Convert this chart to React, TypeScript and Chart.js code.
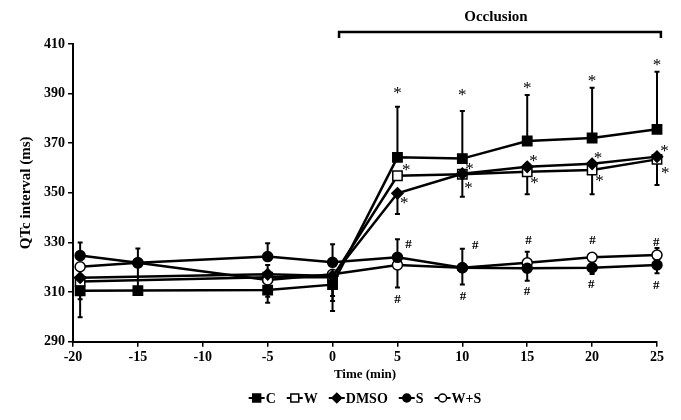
import React, { useEffect, useRef } from 'react';
import { Chart, registerables } from 'chart.js';

Chart.register(...registerables);

// ---- data ----
const times = [-19.45, -15, -5, 0, 5, 10, 15, 20, 25];
const xTickMin = -20;
const xTickMax = 25;
const xTickStep = 5;
const yTickMin = 290;
const yTickMax = 410;
const yTickStep = 20;

const seriesNames = ['C', 'W', 'DMSO', 'S', 'W+S'];

const cValues: (number | null)[] = [310.5, 310.6, 310.8, 313.0, 364.3, 363.8, 370.9, 372.1, 375.6];
const cErrUp = [0, 11, 0, 0, 20.4, 19.2, 18.5, 20.3, 23.2];
const cErrDown = [10.6, 0, 5.1, 10.6, 0, 0, 0, 0, 0];

const wValues: (number | null)[] = [314.3, null, 316.0, 316.0, 356.9, 357.5, 358.5, 359.2, 363.5];
const wErrUp = [0, 0, 0, 0, 0, 0, 0, 0, 0];
const wErrDown = [7.2, 0, 7.9, 9.6, 0, 9.1, 9.1, 9.8, 10.3];

const dmsoValues: (number | null)[] = [315.8, null, 317.2, 316.5, 349.8, 357.7, 360.5, 361.7, 364.6];
const dmsoErrUp = [0, 0, 3.7, 0, 0, 0, 0, 0, 0];
const dmsoErrDown = [0, 0, 0, 8.1, 8.3, 0, 0, 0, 0];

const sValues: (number | null)[] = [324.7, 321.8, 324.3, 322.0, 324.0, 319.8, 319.6, 319.8, 320.9];
const sErrUp = [5.3, 0, 5.4, 7.3, 7.3, 7.7, 0, 0, 0];
const sErrDown = [0, 0, 0, 0, 0, 0, 5.0, 2.5, 3.3];

const wsValues: (number | null)[] = [320.2, 321.8, 314.9, 317.2, 320.9, 319.8, 321.8, 324.0, 324.9];
const wsErrUp = [0, 5.8, 0, 0, 0, 0, 4.5, 0, 2.9];
const wsErrDown = [0, 0, 0, 0, 9.1, 6.7, 0, 0, 0];

// significance marks (data coordinates)
const starCX = [5, 10, 15, 20, 25];
const starCY = [391.4, 390.5, 393.4, 396.1, 402.8];
const starUpperX = [5.68, 10.56, 15.49, 20.45, 25.58];
const starUpperY = [360.3, 360.8, 363.9, 365.3, 368.0];
const starLowerX = [5.53, 10.48, 15.56, 20.57, 25.63];
const starLowerY = [347.1, 353.2, 354.9, 355.9, 358.9];
const hashUpperX = [5.86, 11.0, 15.1, 20.03, 24.94];
const hashUpperY = [329.4, 329.0, 331.3, 331.3, 330.3];
const hashLowerX = [5.0, 10.05, 14.98, 19.93, 24.94];
const hashLowerY = [307.2, 308.4, 310.8, 313.5, 312.9];

const occlusionStart = 0.5;
const occlusionEnd = 25.3;
const occlusionLabel = 'Occlusion';
const xTitle = 'Time (min)';
const yTitle = 'QTc interval (ms)';

const FONT = "'Liberation Serif', 'Times New Roman', serif";

type Series = {
  name: string;
  values: (number | null)[];
  up: number[];
  down: number[];
  style: string;
  fill: string;
  radius: number;
  order: number;
};

const series: Series[] = [
  { name: seriesNames[0], values: cValues, up: cErrUp, down: cErrDown, style: 'rect', fill: '#000', radius: 6.6, order: 0 },
  { name: seriesNames[1], values: wValues, up: wErrUp, down: wErrDown, style: 'rect', fill: '#fff', radius: 6.6, order: 4 },
  { name: seriesNames[2], values: dmsoValues, up: dmsoErrUp, down: dmsoErrDown, style: 'rectRot', fill: '#000', radius: 5.6, order: 1 },
  { name: seriesNames[3], values: sValues, up: sErrUp, down: sErrDown, style: 'circle', fill: '#000', radius: 5, order: 2 },
  { name: seriesNames[4], values: wsValues, up: wsErrUp, down: wsErrDown, style: 'circle', fill: '#fff', radius: 5, order: 3 },
];

function drawMarker(ctx: CanvasRenderingContext2D, style: string, fill: string, x: number, y: number, r: number) {
  ctx.save();
  ctx.fillStyle = fill;
  ctx.strokeStyle = '#000';
  ctx.lineWidth = 1.5;
  ctx.beginPath();
  if (style === 'rect') {
    const h = r * Math.SQRT1_2;
    ctx.rect(x - h, y - h, 2 * h, 2 * h);
  } else if (style === 'rectRot') {
    ctx.moveTo(x, y - r);
    ctx.lineTo(x + r, y);
    ctx.lineTo(x, y + r);
    ctx.lineTo(x - r, y);
    ctx.closePath();
  } else {
    ctx.arc(x, y, r, 0, Math.PI * 2);
  }
  ctx.fill();
  ctx.stroke();
  ctx.restore();
}

const overlayPlugin = {
  id: 'overlay',
  beforeDatasetsDraw(chart: any) {
    const { ctx } = chart;
    const xs = chart.scales.x;
    const ys = chart.scales.y;
    ctx.save();
    ctx.strokeStyle = '#000';
    ctx.lineWidth = 2;
    const cap = 2.5;
    series.forEach((s) => {
      s.values.forEach((v, j) => {
        if (v === null) return;
        const px = xs.getPixelForValue(times[j]);
        const bar = (end: number) => {
          const p0 = ys.getPixelForValue(v);
          const p1 = ys.getPixelForValue(end);
          ctx.beginPath();
          ctx.moveTo(px, p0);
          ctx.lineTo(px, p1);
          ctx.moveTo(px - cap, p1);
          ctx.lineTo(px + cap, p1);
          ctx.stroke();
        };
        if (s.up[j] > 0) bar(v + s.up[j]);
        if (s.down[j] > 0) bar(v - s.down[j]);
      });
    });
    ctx.restore();
  },
  afterDraw(chart: any) {
    const { ctx, chartArea } = chart;
    const xs = chart.scales.x;
    const ys = chart.scales.y;
    ctx.save();
    ctx.fillStyle = '#000';
    ctx.textAlign = 'center';
    ctx.textBaseline = 'alphabetic';

    const marks = (xsArr: number[], ysArr: number[], glyph: string, size: number, weight: string, k: number) => {
      ctx.font = `${weight} ${size}px ${FONT}`;
      xsArr.forEach((xv, i) => {
        const px = xs.getPixelForValue(xv);
        const py = ys.getPixelForValue(ysArr[i]);
        ctx.fillText(glyph, px, py + k * size);
      });
    };
    marks(starCX, starCY, '*', 17, 'normal', 0.45);
    marks(starUpperX, starUpperY, '*', 17, 'normal', 0.45);
    marks(starLowerX, starLowerY, '*', 17, 'normal', 0.45);
    marks(hashUpperX, hashUpperY, '#', 13, 'bold', 0.34);
    marks(hashLowerX, hashLowerY, '#', 13, 'bold', 0.34);

    // occlusion bracket
    const bx0 = xs.getPixelForValue(occlusionStart);
    const bx1 = xs.getPixelForValue(occlusionEnd);
    const by = 32;
    ctx.strokeStyle = '#000';
    ctx.lineWidth = 2.5;
    ctx.beginPath();
    ctx.moveTo(bx0, by + 6);
    ctx.lineTo(bx0, by);
    ctx.lineTo(bx1, by);
    ctx.lineTo(bx1, by + 6);
    ctx.stroke();
    ctx.font = `bold 15px ${FONT}`;
    ctx.textBaseline = 'middle';
    ctx.fillText(occlusionLabel, (bx0 + bx1) / 2 - 4, 17);

    // axis titles
    const cx = (chartArea.left + chartArea.right) / 2;
    const cy = (chartArea.top + chartArea.bottom) / 2;
    ctx.font = `bold 13px ${FONT}`;
    ctx.fillText(xTitle, cx, 375);
    ctx.save();
    ctx.translate(26, cy);
    ctx.rotate(-Math.PI / 2);
    ctx.font = `bold 15px ${FONT}`;
    ctx.fillText(yTitle, 0, 0);
    ctx.restore();

    // legend
    ctx.font = `bold 14px ${FONT}`;
    const lineLen = 16;
    const textGap = 1;
    const itemGap = 11;
    const widths = series.map((s) => lineLen + textGap + ctx.measureText(s.name).width);
    const total = widths.reduce((a, b) => a + b, 0) + itemGap * (series.length - 1);
    let lx = cx - total / 2;
    const ly = 398;
    ctx.textAlign = 'left';
    series.forEach((s, i) => {
      ctx.strokeStyle = '#000';
      ctx.lineWidth = 2;
      ctx.beginPath();
      ctx.moveTo(lx, ly);
      ctx.lineTo(lx + lineLen, ly);
      ctx.stroke();
      drawMarker(ctx, s.style, s.fill, lx + lineLen / 2, ly, s.style === 'circle' ? 4 : s.style === 'rect' ? 5.6 : 4.8);
      ctx.fillStyle = '#000';
      ctx.fillText(s.name, lx + lineLen + textGap, ly + 1);
      lx += widths[i] + itemGap;
    });
    ctx.restore();
  },
};

export default function App() {
  const ref = useRef<HTMLCanvasElement | null>(null);

  useEffect(() => {
    document.body.style.margin = '0';
    if (!ref.current) return;
    const chart = new Chart(ref.current, {
      type: 'line',
      data: {
        datasets: series.map((s) => ({
          label: s.name,
          data: s.values.map((v, j) => ({ x: times[j], y: v })),
          order: s.order,
          borderColor: '#000',
          borderWidth: 2.5,
          pointStyle: s.style as any,
          pointRadius: s.radius,
          pointBackgroundColor: s.fill,
          pointBorderColor: '#000',
          pointBorderWidth: 1.5,
          tension: 0,
          fill: false,
          spanGaps: true,
          clip: false as any,
        })),
      },
      options: {
        animation: false,
        responsive: true,
        maintainAspectRatio: false,
        layout: { padding: { top: 44, right: 24, bottom: 0, left: 0 } },
        plugins: {
          legend: { display: false },
          tooltip: { enabled: false },
          title: { display: false },
        },
        scales: {
          x: {
            type: 'linear',
            min: xTickMin,
            max: xTickMax,
            afterFit: (scale: any) => {
              scale.height = 78.3;
            },
            ticks: {
              stepSize: xTickStep,
              color: '#000',
              font: { family: FONT, size: 14, weight: 'bold' },
              padding: 2,
              maxRotation: 0,
            },
            grid: {
              display: true,
              drawOnChartArea: false,
              drawTicks: true,
              tickLength: 5,
              color: '#000',
              lineWidth: 1.5,
            },
            border: { display: true, color: '#000', width: 2 },
          },
          y: {
            type: 'linear',
            min: yTickMin,
            max: yTickMax,
            afterFit: (scale: any) => {
              scale.width = 73;
            },
            ticks: {
              stepSize: yTickStep,
              color: '#000',
              font: { family: FONT, size: 14, weight: 'bold' },
              padding: 3,
            },
            grid: {
              display: true,
              drawOnChartArea: false,
              drawTicks: true,
              tickLength: 5,
              color: '#000',
              lineWidth: 1.5,
            },
            border: { display: true, color: '#000', width: 2 },
          },
        },
      },
      plugins: [overlayPlugin],
    });
    return () => chart.destroy();
  }, []);

  return (
    <div style={{ position: 'fixed', left: 0, top: 0, width: 681, height: 420, background: '#fff' }}>
      <canvas ref={ref} />
    </div>
  );
}
